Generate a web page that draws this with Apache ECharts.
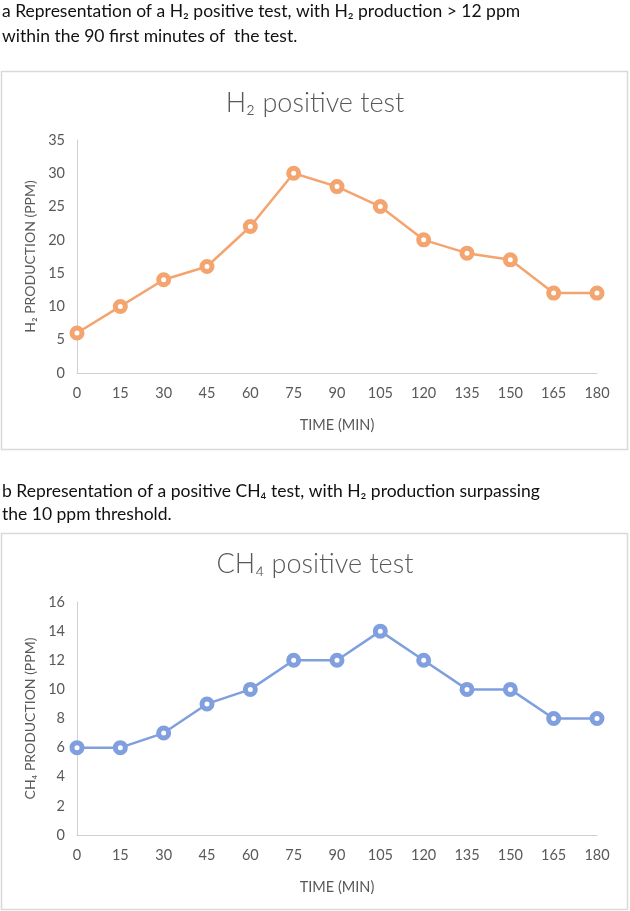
<!DOCTYPE html>
<html><head><meta charset="utf-8">
<script src="https://cdn.jsdelivr.net/npm/echarts@6/dist/echarts.min.js"></script>
<style>html,body{margin:0;padding:0;background:#fff}#c{width:630px;height:911px}</style>
</head><body><div id="c"></div>
<script>
const timeTicks = [0,15,30,45,60,75,90,105,120,135,150,165,180];
const h2Values = [6,10,14,16,22,30,28,25,20,18,17,12,12];
const ch4Values = [6,6,7,9,10,12,12,14,12,10,10,8,8];
const captionA = ['a Representation of a H\u2082 positive test, with H\u2082 production > 12 ppm', 'within the 90 first minutes of  the test.'];
const captionB = ['b Representation of a positive CH\u2084 test, with H\u2082 production surpassing', 'the 10 ppm threshold.'];
const titleA = 'H\u2082 positive test';
const titleB = 'CH\u2084 positive test';
const yNameA = 'H\u2082 PRODUCTION (PPM)';
const yNameB = 'CH\u2084 PRODUCTION (PPM)';
const xName = 'TIME (MIN)';

const FONT = 'Lato, "Open Sans", sans-serif';
const grey = '#595959';
const chart = echarts.init(document.getElementById('c'));

function xAxis(gi){
  return {gridIndex:gi,type:'value',min:0,max:180,interval:15,
    name:xName,nameLocation:'middle',nameGap:45,
    nameTextStyle:{color:grey,fontSize:14.5,fontFamily:FONT},
    axisLine:{lineStyle:{color:'#d0d0d0'}},axisTick:{show:false},splitLine:{show:false},
    axisLabel:{color:grey,fontSize:14.5,fontFamily:FONT,margin:13}};
}
function yAxis(gi,max,intv,name){
  return {gridIndex:gi,type:'value',min:0,max:max,interval:intv,
    name:name,nameLocation:'middle',nameGap:40,
    nameTextStyle:{color:grey,fontSize:14,fontFamily:FONT},
    axisLine:{show:true,lineStyle:{color:'#d0d0d0'}},axisTick:{show:false},splitLine:{show:false},
    axisLabel:{color:grey,fontSize:14.5,fontFamily:FONT,margin:12}};
}
function series(gi,vals,color){
  return {type:'line',xAxisIndex:gi,yAxisIndex:gi,data:timeTicks.map((t,i)=>[t,vals[i]]),
    symbol:'circle',symbolSize:10,
    lineStyle:{color:color,width:2.5},
    itemStyle:{color:'#fff',borderColor:color,borderWidth:5},
    emphasis:{disabled:true},silent:true};
}
const capStyle = {fill:'#111',fontSize:17.5,fontFamily:FONT};
chart.setOption({
  animation:false,
  graphic:[
    {type:'rect',shape:{x:1.5,y:71.5,width:626,height:378},style:{fill:'none',stroke:'#d9d9d9',lineWidth:1.5},z:-1},
    {type:'rect',shape:{x:1.5,y:533.5,width:626,height:376},style:{fill:'none',stroke:'#d9d9d9',lineWidth:1.5},z:-1},
    {type:'text',left:2,top:2,style:Object.assign({text:captionA[0]},capStyle)},
    {type:'text',left:2,top:27,style:Object.assign({text:captionA[1]},capStyle)},
    {type:'text',left:2,top:482,style:Object.assign({text:captionB[0]},capStyle)},
    {type:'text',left:2,top:505,style:Object.assign({text:captionB[1]},capStyle)}
  ],
  title:[
    {text:titleA,left:'center',top:85,textStyle:{color:grey,fontSize:27,fontWeight:300,fontFamily:FONT}},
    {text:titleB,left:'center',top:546,textStyle:{color:grey,fontSize:27,fontWeight:300,fontFamily:FONT}}
  ],
  grid:[
    {left:77,right:33,top:140,height:233},
    {left:77,right:33,top:602,height:233}
  ],
  xAxis:[xAxis(0),xAxis(1)],
  yAxis:[yAxis(0,35,5,yNameA),yAxis(1,16,2,yNameB)],
  series:[series(0,h2Values,'#f4a46e'),series(1,ch4Values,'#809fde')]
});
</script></body></html>
